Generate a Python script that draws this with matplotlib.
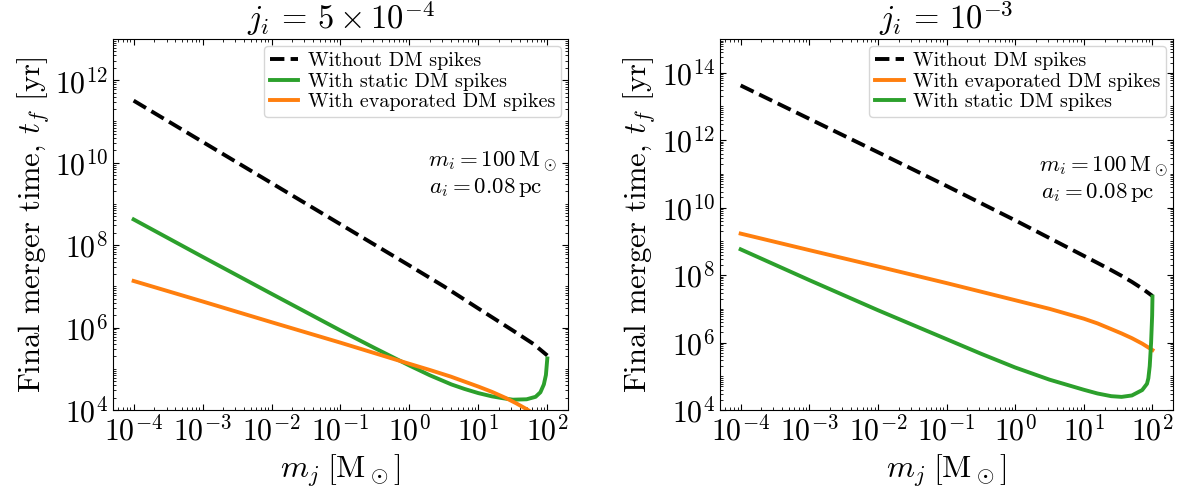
import numpy as np
import matplotlib
matplotlib.use("Agg")
import matplotlib.pyplot as plt
from matplotlib.ticker import LogLocator, NullFormatter

plt.rcParams['font.family'] = 'serif'
plt.rcParams['font.serif'] = ['cmr10']
plt.rcParams['mathtext.fontset'] = 'cm'
plt.rcParams['axes.formatter.use_mathtext'] = True
plt.rcParams['axes.unicode_minus'] = True

# ---------------- data ----------------
# Left panel: j_i = 5e-4
L_black_x = [1e-4, 1e-3, 1e-2, 1e-1, 1.0, 3.16, 10.0, 31.6, 63.0, 100.0]
L_black_y = [3.2e11, 3.2e10, 3.2e9, 3.2e8, 3.2e7, 1.0e7, 2.9e6, 8.5e5, 4.0e5, 2.1e5]

L_green_x = [1e-4, 1e-3, 1e-2, 1e-1, 0.316, 1.0, 2.0, 4.07, 6.31, 10.0, 15.8, 21.9,
             31.6, 50.1, 67.6, 79.4, 89.1, 95.5, 100.0]
L_green_y = [4.2e8, 5.2e7, 6.6e6, 8.5e5, 3.16e5, 1.2e5, 6.9e4, 4.17e4, 3.24e4, 2.57e4,
             2.14e4, 1.95e4, 1.78e4, 1.82e4, 2.09e4, 2.69e4, 4.17e4, 7.08e4, 1.78e5]

L_orange_x = [1e-4, 1e-3, 1e-2, 1e-1, 1.0, 2.0, 3.98, 10.0, 15.8, 25.1, 35.5, 50.1, 70.8, 100.0]
L_orange_y = [1.35e7, 4.3e6, 1.35e6, 4.3e5, 1.32e5, 9.3e4, 6.46e4, 3.7e4, 2.75e4, 1.95e4,
              1.45e4, 1.05e4, 7.2e3, 4.8e3]

# Right panel: j_i = 1e-3
R_black_x = [1e-4, 1e-3, 1e-2, 1e-1, 1.0, 6.9, 15.8, 25.1, 35.5, 50.1, 70.8, 100.0]
R_black_y = [4.2e13, 4.3e12, 4.4e11, 4.4e10, 4.2e9, 5.5e8, 2.3e8, 1.4e8, 9.5e7, 6.3e7,
             4.0e7, 2.4e7]

R_orange_x = [1e-4, 1e-3, 1e-2, 1e-1, 1.0, 3.16, 10.0, 15.8, 25.1, 35.5, 50.1, 70.8, 100.0]
R_orange_y = [1.7e9, 5.5e8, 1.8e8, 5.8e7, 1.8e7, 1.0e7, 5.1e6, 3.7e6, 2.5e6, 1.86e6,
              1.35e6, 9.3e5, 6.0e5]

R_green_x = [1e-4, 1e-3, 1e-2, 1e-1, 0.316, 1.0, 3.16, 10.0, 15.8, 25.1, 35.5, 50.1,
             70.8, 83.2, 87.1, 91.2, 95.5, 98.9, 100.0]
R_green_y = [5.8e8, 7.1e7, 9.1e6, 1.26e6, 4.68e5, 1.82e5, 7.94e4, 3.98e4, 3.09e4, 2.57e4,
             2.45e4, 2.7e4, 3.9e4, 6.0e4, 8.7e4, 2.0e5, 1.0e6, 6.3e6, 2.3e7]

GREEN = '#2ca02c'
ORANGE = '#ff7f0e'
LW = 2.8

fig = plt.figure(figsize=(11.89, 4.95), dpi=100)
axL = fig.add_axes([0.095, 0.1717, 0.3827, 0.7495])
axR = fig.add_axes([0.6056, 0.1717, 0.381, 0.7495])

axL.plot(L_black_x, L_black_y, ls='--', color='k', lw=LW, label='Without DM spikes')
axL.plot(L_green_x, L_green_y, color=GREEN, lw=LW, label='With static DM spikes')
axL.plot(L_orange_x, L_orange_y, color=ORANGE, lw=LW, label='With evaporated DM spikes')

axR.plot(R_black_x, R_black_y, ls='--', color='k', lw=LW, label='Without DM spikes')
axR.plot(R_orange_x, R_orange_y, color=ORANGE, lw=LW, label='With evaporated DM spikes')
axR.plot(R_green_x, R_green_y, color=GREEN, lw=LW, label='With static DM spikes')

for ax, top, yt, title, tx, ty in [
        (axL, 1e13, [1e4, 1e6, 1e8, 1e10, 1e12], r'$j_i\, =\, 5 \times 10^{-4}$', 0.692, 0.670),
        (axR, 1e15, [1e4, 1e6, 1e8, 1e10, 1e12, 1e14], r'$j_i\, =\, 10^{-3}$', 0.705, 0.656)]:
    ax.set_xscale('log')
    ax.set_yscale('log')
    ax.set_xlim(10**-4.3, 10**2.3)
    ax.set_ylim(1e4, top)
    ax.set_xticks([1e-4, 1e-3, 1e-2, 1e-1, 1, 1e1, 1e2])
    ax.set_yticks(yt)
    ax.xaxis.set_minor_locator(LogLocator(base=10, subs=np.arange(2, 10), numticks=100))
    ax.yaxis.set_minor_locator(LogLocator(base=10, subs=np.arange(1, 10), numticks=100))
    ax.xaxis.set_minor_formatter(NullFormatter())
    ax.yaxis.set_minor_formatter(NullFormatter())
    ax.tick_params(which='both', direction='in', top=True, right=True, labelsize=21.5)
    ax.tick_params(which='major', length=4.5, width=0.8)
    ax.tick_params(which='minor', length=2.2, width=0.6)
    ax.set_title(title, fontsize=23.5, pad=7)
    ax.set_xlabel(r'$m_j\;[\mathrm{M}_\odot]$', fontsize=23, labelpad=5)
    ax.set_ylabel(r'Final merger time, $t_f$ [yr]', fontsize=22, labelpad=3)
    ax.legend(loc='upper right', fontsize=14.5, labelspacing=0.12, handlelength=1.4,
              borderpad=0.3, handletextpad=0.45, borderaxespad=0.35)
    ax.text(tx, ty, r'$m_i = 100\,\mathrm{M}_\odot$', transform=ax.transAxes,
            fontsize=16.5, ha='left', va='center')
    ax.text(tx + 0.003, ty - 0.07, r'$a_i = 0.08\,\mathrm{pc}$', transform=ax.transAxes,
            fontsize=16.5, ha='left', va='center')

fig.savefig('out.png', dpi=100)
